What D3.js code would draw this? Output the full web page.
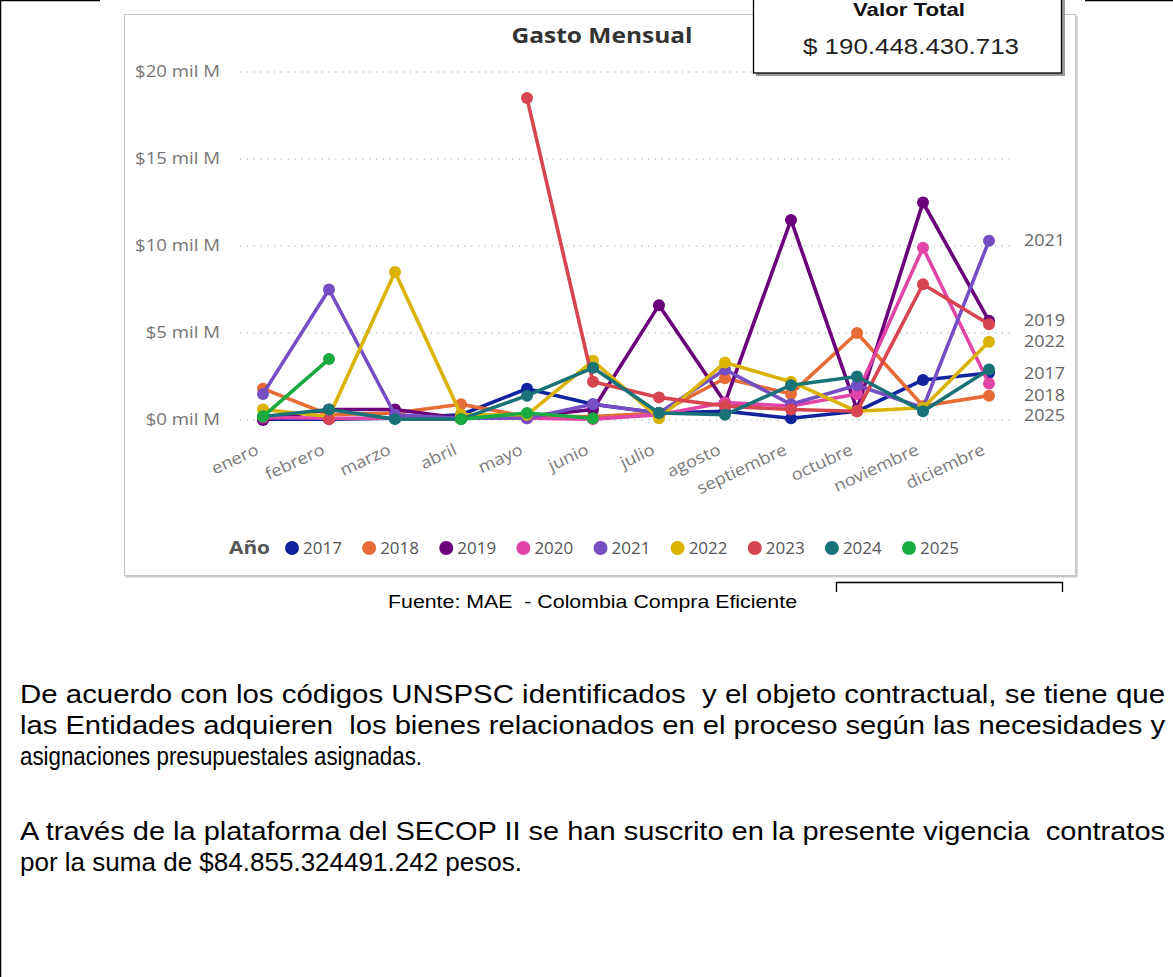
<!DOCTYPE html>
<html><head><meta charset="utf-8">
<script src="https://cdn.jsdelivr.net/npm/d3@7"></script>
<style>
html,body{margin:0;padding:0;background:#fff;}
svg{display:block;}
</style></head>
<body>
<svg id="c" width="1173" height="977"></svg>
<script>
// ---- data ----
const months = ["enero","febrero","marzo","abril","mayo","junio","julio","agosto","septiembre","octubre","noviembre","diciembre"];
const years = ["2017","2018","2019","2020","2021","2022","2023","2024","2025"];
const colors = ["#12239E","#E66C37","#6B007B","#E044A7","#744EC2","#D9B300","#D64550","#197278","#1AAB40"];
// values in "mil M" (thousands of millions of pesos)
const v2017 = [0.05,0.05,0.1,0.3,1.8,0.9,0.4,0.5,0.1,0.5,2.3,2.7];
const v2018 = [1.8,0.3,0.4,0.9,0.2,0.2,0.4,2.4,1.5,5.0,0.8,1.4];
const v2019 = [0.0,0.6,0.6,0.1,0.2,0.6,6.6,1.0,11.5,0.6,12.5,5.7];
const v2020 = [0.15,0.1,0.1,0.1,0.1,0.05,0.3,1.0,0.8,1.5,9.9,2.1];
const v2021 = [1.5,7.5,0.3,0.1,0.1,0.9,0.4,2.9,0.9,2.0,0.7,10.3];
const v2022 = [0.6,0.2,8.5,0.3,0.3,3.4,0.1,3.3,2.2,0.5,0.7,4.5];
const v2023 = [null,0.05,null,null,18.5,2.2,1.3,0.8,0.6,0.5,7.8,5.5];
const v2024 = [0.2,0.6,0.05,0.05,1.4,3.0,0.4,0.3,2.0,2.5,0.5,2.9];
const v2025 = [0.2,3.5,null,0.05,0.4,0.1,null,null,null,null,null,null];
const seriesValues = [v2017,v2018,v2019,v2020,v2021,v2022,v2023,v2024,v2025];
const yTicks = [0,5,10,15,20];
const endLabels = ["2021","2019","2022","2017","2018","2025"];
const endLabelValues = [10.3,5.7,4.5,2.7,1.4,0.25];
const title = "Gasto Mensual";
const kpiTitle = "Valor Total";
const kpiValue = "$ 190.448.430.713";
const source = "Fuente: MAE  - Colombia Compra Eficiente";
const bodyLines = [
  {t:"De acuerdo con los códigos UNSPSC identificados  y el objeto contractual, se tiene que", w:1145, y:703},
  {t:"las Entidades adquieren  los bienes relacionados en el proceso según las necesidades y", w:1145, y:734},
  {t:"asignaciones presupuestales asignadas.", w:402, y:765},
  {t:"A través de la plataforma del SECOP II se han suscrito en la presente vigencia  contratos", w:1145, y:840},
  {t:"por la suma de $84.855.324491.242 pesos.", w:502, y:871}
];

const svg = d3.select("#c");
const font = "'Open Sans', 'Noto Sans', sans-serif";
const arial = "'Liberation Sans', Arial, sans-serif";

function stretch(sel, f){
  sel.each(function(){
    const n = this.getComputedTextLength();
    d3.select(this).attr("textLength", n*f).attr("lengthAdjust","spacingAndGlyphs");
  });
}

// page frame
svg.append("line").attr("x1",0.5).attr("x2",0.5).attr("y1",0).attr("y2",977).attr("stroke","#000").attr("stroke-width",1.5);
svg.append("line").attr("x1",0).attr("x2",100).attr("y1",0.5).attr("y2",0.5).attr("stroke","#000").attr("stroke-width",1.5);
svg.append("line").attr("x1",1085).attr("x2",1173).attr("y1",0.5).attr("y2",0.5).attr("stroke","#000").attr("stroke-width",1.5);

// chart card
svg.append("rect").attr("x",125.5).attr("y",15.5).attr("width",952).attr("height",562).attr("fill","#c9c9c9");
svg.append("rect").attr("x",124.5).attr("y",14.5).attr("width",951).attr("height",561).attr("fill","#fff").attr("stroke","#c6c6c6");

const x = d3.scalePoint().domain(months).range([263,989]);
const y = d3.scaleLinear().domain([0,20]).range([420,72]);

// gridlines
svg.append("g").selectAll("line").data(yTicks).join("line")
  .attr("x1",240).attr("x2",1015).attr("y1",d=>y(d)).attr("y2",d=>y(d))
  .attr("stroke","#c4c4c4").attr("stroke-width",1.3).attr("stroke-dasharray","1.3,5.5");

// y axis
const yAxis = svg.append("g").attr("transform","translate(220,0)")
  .call(d3.axisLeft(y).tickValues(yTicks).tickSize(0).tickFormat(d=>`$${d} mil M`));
yAxis.select(".domain").remove();
yAxis.selectAll("text").attr("font-family",font).attr("font-size",15.5).attr("fill","#757575").attr("x",0).attr("dx",0);
stretch(yAxis.selectAll("text"), 1.2);

// x axis
const xAxis = svg.append("g").attr("transform","translate(-4,441)")
  .call(d3.axisBottom(x).tickSize(0));
xAxis.select(".domain").remove();
xAxis.selectAll("text").attr("font-family",font).attr("font-size",16.5).attr("fill","#7a7a7a")
  .attr("text-anchor","end").attr("y",0).attr("dy","0.7em").attr("dx","-0.3em")
  .attr("transform","rotate(-25)");
stretch(xAxis.selectAll("text"), 1.1);

// title
const tt = svg.append("text").attr("x",602).attr("y",43).attr("text-anchor","middle")
  .attr("font-family",font).attr("font-weight","700").attr("font-size",21).attr("fill","#333").text(title);
stretch(tt, 181/tt.node().getComputedTextLength());

// lines
const line = d3.line().defined(d=>d.v!==null).x(d=>x(d.m)).y(d=>y(d.v));
years.forEach((yr,i)=>{
  const pts = months.map((m,j)=>({m, v: seriesValues[i][j]}));
  const g = svg.append("g");
  g.append("path").datum(pts).attr("d",line).attr("fill","none").attr("stroke",colors[i])
    .attr("stroke-width",3.6).attr("stroke-linejoin","round");
  g.selectAll("circle").data(pts.filter(d=>d.v!==null)).join("circle")
    .attr("cx",d=>x(d.m)).attr("cy",d=>y(d.v)).attr("r",6).attr("fill",colors[i]);
});

// end labels
const el = svg.append("g").selectAll("text").data(endLabels).join("text")
  .attr("x",1024).attr("y",(d,i)=>y(endLabelValues[i])).attr("dy","0.35em")
  .attr("font-family",font).attr("font-size",16).attr("fill","#666").text(d=>d);
stretch(el, 41/el.node().getComputedTextLength());

// legend
const lg = svg.append("g").attr("transform","translate(0,548)");
const ano = lg.append("text").attr("x",229).attr("y",0).attr("dy","0.35em").attr("font-family",font)
  .attr("font-weight","700").attr("font-size",17).attr("fill","#555").text("Año");
stretch(ano, 41/ano.node().getComputedTextLength());
const lx = d3.scalePoint().domain(years).range([292,909]);
years.forEach((yr,i)=>{
  lg.append("circle").attr("cx",lx(yr)).attr("cy",0).attr("r",7).attr("fill",colors[i]);
  lg.append("text").attr("x",lx(yr)+11).attr("y",0).attr("dy","0.35em").attr("font-family",font)
    .attr("font-size",17).attr("fill","#555").text(yr);
});

// KPI card
svg.append("rect").attr("x",756).attr("y",-2).attr("width",309).attr("height",78).attr("fill","#9a9a9a");
svg.append("rect").attr("x",753.5).attr("y",-3).attr("width",308).attr("height",76).attr("fill","#fff").attr("stroke","#000").attr("stroke-width",1.3);
const k1 = svg.append("text").attr("x",909).attr("y",16).attr("text-anchor","middle").attr("font-family",arial)
  .attr("font-weight","700").attr("font-size",19).attr("fill","#111").text(kpiTitle);
stretch(k1, 112/k1.node().getComputedTextLength());
const k2 = svg.append("text").attr("x",911).attr("y",54).attr("text-anchor","middle").attr("font-family",arial)
  .attr("font-size",22).attr("fill","#222").text(kpiValue);
stretch(k2, 216/k2.node().getComputedTextLength());

// small box below chart
svg.append("path").attr("d","M836.5,592 V582.5 H1062.5 V592").attr("fill","none").attr("stroke","#000").attr("stroke-width",1.3);

// source
svg.append("text").attr("x",388).attr("y",608).attr("font-family",arial)
  .attr("font-size",18.5).attr("fill","#000").style("white-space","pre")
  .attr("textLength",409).attr("lengthAdjust","spacingAndGlyphs").text(source);

// body text
svg.append("g").selectAll("text").data(bodyLines).join("text")
  .attr("x",20).attr("y",d=>d.y).attr("font-family",arial)
  .attr("font-size",25.5).attr("fill","#000")
  .attr("textLength",d=>d.w).attr("lengthAdjust","spacingAndGlyphs")
  .style("white-space","pre").text(d=>d.t);
</script>
</body></html>
